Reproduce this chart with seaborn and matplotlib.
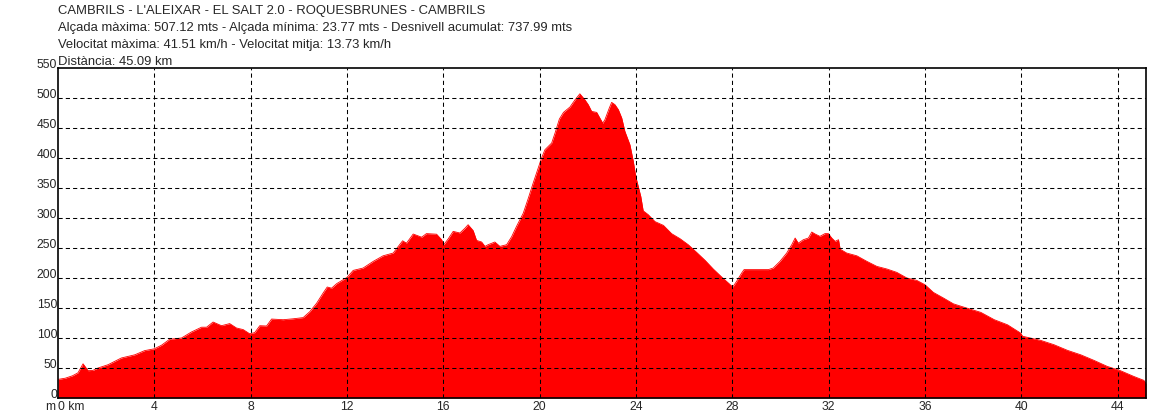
import matplotlib
matplotlib.use("Agg")
from matplotlib import pyplot as plt
import numpy as np
import seaborn as sns

# profile data (distance in km, altitude in m)
km = [0.0, 0.3, 0.6, 0.83, 1.04, 1.25, 1.45, 1.66, 2.08, 2.63, 3.19, 3.6, 4.0,
      4.3, 4.64, 5.13, 5.54, 5.96, 6.17, 6.44, 6.79, 7.13, 7.41, 7.69, 7.96,
      8.17, 8.38, 8.66, 8.87, 9.35, 9.76, 10.18, 10.46, 10.74, 11.01, 11.18,
      11.36, 11.57, 12.0, 12.26, 12.67, 13.09, 13.5, 13.92, 14.13, 14.31, 14.47,
      14.75, 15.1, 15.3, 15.72, 15.93, 16.02, 16.2, 16.41, 16.69, 16.9, 17.03,
      17.24, 17.38, 17.59, 17.73, 17.86, 18.14, 18.35, 18.63, 18.84, 19.04,
      19.32, 19.53, 19.73, 19.94, 20.08, 20.22, 20.5, 20.64, 20.82, 20.99,
      21.26, 21.47, 21.67, 21.88, 22.02, 22.16, 22.37, 22.62, 22.71, 22.89,
      22.99, 23.13, 23.27, 23.41, 23.54, 23.75, 23.89, 23.99, 24.1, 24.2, 24.3,
      24.51, 24.79, 25.14, 25.48, 25.83, 26.17, 26.52, 26.87, 27.21, 27.56,
      27.84, 28.02, 28.18, 28.39, 28.49, 29.5, 29.7, 29.98, 30.26, 30.47, 30.61,
      30.74, 30.95, 31.16, 31.3, 31.44, 31.64, 31.85, 31.99, 32.13, 32.27,
      32.41, 32.48, 32.75, 33.17, 33.59, 34.0, 34.42, 34.83, 35.25, 35.66, 36.0,
      36.35, 36.77, 37.18, 37.6, 38.32, 38.88, 39.43, 39.98, 40.05, 40.81,
      41.36, 41.92, 42.47, 43.02, 43.57, 44.12, 44.67, 45.09, 45.18]
alt = [31, 33, 37, 42, 57, 45.5, 46, 50, 55.5, 66.7, 72, 79, 82,
       88, 98, 100, 110, 118, 118, 126.6, 120.5, 124, 116.7, 114, 107,
       109, 120.5, 120, 131.6, 130.5, 132, 134, 144, 158, 175, 185,
       183, 190.5, 201, 212.7, 216.6, 227.7, 237, 241.6, 252.7, 262, 258,
       273.3, 268, 274, 273, 263.8, 255.5, 265, 277.7, 275, 283, 288.8,
       279, 262.7, 260, 252.7, 255.5, 260, 252.7, 255.5, 269, 286,
       308, 333, 358, 383, 400, 413.8, 425, 441.6, 465, 476,
       485, 497, 507, 497, 488.8, 477.7, 476, 458, 463.8, 483,
       492.7, 488.8, 480.5, 466.6, 444.4, 422, 394.4, 369.4, 351.6, 336, 312,
       305.5, 294, 287.7, 273.9, 265.5, 255.5, 242.7, 229.4, 215, 201.6,
       191.6, 185, 194.4, 208.3, 214, 214, 216.6, 227.7, 241.6, 255.5, 266.6,
       258, 263.8, 266.6, 276.6, 273.3, 269.4, 274, 274, 266.6, 261,
       263.8, 248, 241.6, 237, 227.7, 219.4, 215, 209.4, 200, 196, 188.8,
       176, 166.6, 157, 151.6, 142.7, 130.5, 122, 108, 103, 96,
       88.8, 79.4, 72, 62.7, 52.7, 45.5, 36, 29.4, 24]

x_ticks = list(range(0, 45, 4))
x_labels = ["0 km"] + [str(t) for t in x_ticks[1:]]
y_ticks = list(range(0, 551, 50))

header = ["CAMBRILS - L'ALEIXAR - EL SALT 2.0 - ROQUESBRUNES - CAMBRILS",
          "Alçada màxima: 507.12 mts - Alçada mínima: 23.77 mts - Desnivell acumulat: 737.99 mts",
          "Velocitat màxima: 41.51 km/h - Velocitat mitja: 13.73 km/h",
          "Distància: 45.09 km"]

sns.set_style("white")
plt.rcParams['font.family'] = ['Liberation Sans', 'DejaVu Sans']
fs = 8.7
fs_head = 9.35

W, H = 1175, 418
fig = plt.figure(figsize=(W / 100, H / 100), dpi=100)
ax = fig.add_axes([58 / W, 1 - 398 / H, (1146 - 58) / W, (398 - 68) / H])

sns.lineplot(x=km, y=alt, color="#ff0000", lw=0.6, ax=ax)
ax.fill_between(km, alt, 0, color="#ff0000", lw=0)

ax.set_xlim(0, 45.18)
ax.set_ylim(0, 550)
ax.set_xticks(x_ticks)
ax.set_xticklabels(x_labels, fontsize=fs)
ax.set_yticks(y_ticks)
ax.set_yticklabels([str(t) for t in y_ticks], fontsize=fs)
ax.tick_params(axis="both", length=0)
ax.tick_params(axis="x", pad=2.5)
ax.tick_params(axis="y", pad=0.5)
for lab in ax.get_yticklabels():
    lab.set_verticalalignment("baseline")
ax.get_xticklabels()[0].set_horizontalalignment("left")

for t in x_ticks[1:]:
    ax.axvline(t, color="black", lw=0.75, ls=(0, (4, 3)), zorder=3)
for t in y_ticks[1:-1]:
    ax.axhline(t, color="black", lw=0.75, ls=(0, (4, 3)), zorder=3)

for s in ax.spines.values():
    s.set_visible(True)
    s.set_color("black")
    s.set_linewidth(1.2)
    s.set_zorder(4)
ax.set_xlabel("")
ax.set_ylabel("")

fig.text(55 / W, 1 - 401 / H, "m", ha="right", va="top", fontsize=fs)
for i, line in enumerate(header):
    fig.text(58 / W, 1 - (14 + 17 * i) / H, line, ha="left", va="baseline", fontsize=fs_head)

fig.savefig("out.png", dpi=100, facecolor="white")
